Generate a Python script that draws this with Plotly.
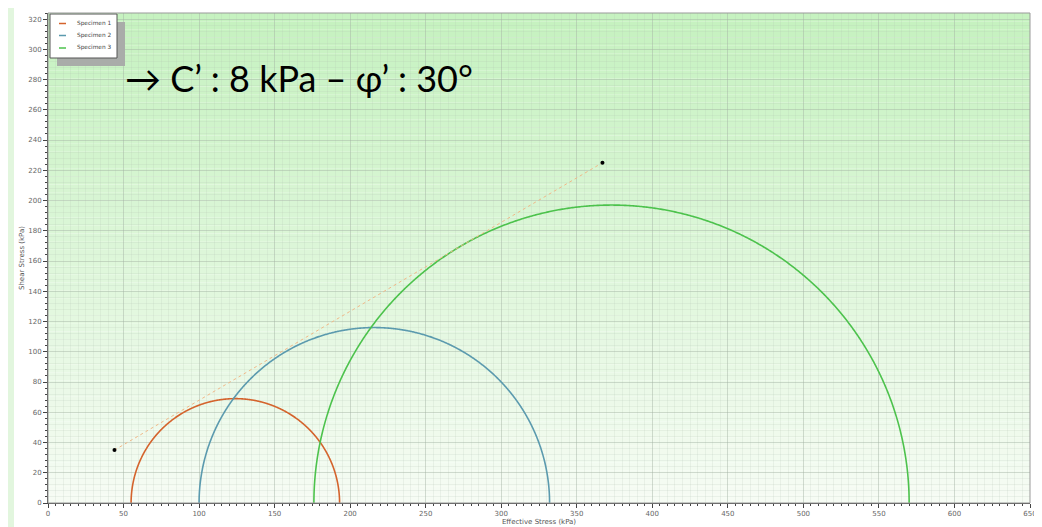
import numpy as np
import plotly.graph_objects as go

# Mohr circles: (sigma3', sigma1') in kPa
specimens = ["Specimen 1", "Specimen 2", "Specimen 3"]
sigma3 = [55, 100, 176]
sigma1 = [193, 332, 570]
colors = ["#d4632c", "#5b9aae", "#4cc24c"]

# failure envelope end points
env_x = [44, 367]
env_y = [35, 225]

x_ticks = list(range(0, 651, 50))
y_ticks = list(range(0, 321, 20))

fig = go.Figure()

theta = np.linspace(0, np.pi, 721)
for name, s3, s1, c in zip(specimens, sigma3, sigma1, colors):
    cen = (s3 + s1) / 2
    rad = (s1 - s3) / 2
    fig.add_trace(go.Scatter(x=cen + rad * np.cos(theta), y=rad * np.sin(theta),
                             mode="lines", name=name, showlegend=False,
                             line=dict(color=c, width=1.6, simplify=False)))

fig.add_trace(go.Scatter(x=env_x, y=env_y, mode="lines+markers", showlegend=False,
                         line=dict(color="#f0b888", width=1, dash="dot"),
                         marker=dict(color="black", size=4)))

PW, PH = 982.0, 490.0  # plot area size in px

def px(xp):
    return xp / PW

def py(yp):  # yp = px from top of plot area
    return 1 - yp / PH

# gradient background bands
shapes = []
n = 60
top = np.array([198, 242, 192])
bot = np.array([246, 252, 244])
for i in range(n):
    f = i / (n - 1)
    col = top * (1 - f) + bot * f
    shapes.append(dict(type="rect", xref="paper", yref="paper",
                       x0=0, x1=1, y0=1 - (i + 1) / n, y1=1 - i / n,
                       fillcolor="rgb(%d,%d,%d)" % tuple(col.astype(int)),
                       line=dict(width=0), layer="below"))
# left slide strip (visible part of the slide behind the chart)
shapes.append(dict(type="rect", xref="paper", yref="paper",
                   x0=px(-48), x1=px(-34), y0=py(490 + 24), y1=py(-13),
                   fillcolor="#e2f6de", line=dict(width=0), layer="below"))

# manual compact legend (shadow, box, swatches)
shapes.append(dict(type="rect", xref="paper", yref="paper",
                   x0=px(9), x1=px(77), y0=py(53), y1=py(9),
                   fillcolor="#a9aca9", line=dict(width=0), layer="above"))
shapes.append(dict(type="rect", xref="paper", yref="paper",
                   x0=px(2), x1=px(69), y0=py(45), y1=py(1),
                   fillcolor="white", line=dict(color="#555555", width=1), layer="above"))
legend_rows = [10.5, 22.5, 35]
annotations = []
for name, c, r in zip(specimens, colors, legend_rows):
    shapes.append(dict(type="line", xref="paper", yref="paper",
                       x0=px(11), x1=px(18), y0=py(r), y1=py(r),
                       line=dict(color=c, width=1.5), layer="above"))
    annotations.append(dict(xref="paper", yref="paper", x=px(27), y=py(r),
                            xanchor="left", yanchor="middle", showarrow=False,
                            text=name, font=dict(size=5.8, color="#444444",
                                                 family="DejaVu Sans")))

annotations.append(dict(xref="paper", yref="paper", x=px(75), y=py(65),
                        xanchor="left", yanchor="middle", showarrow=False,
                        text="→ C’ : 8 kPa – φ’ : 30°",
                        font=dict(family="Lato", size=36, color="black")))

# plot area border
shapes.append(dict(type="rect", xref="paper", yref="paper", x0=0, x1=1, y0=0, y1=1,
                   line=dict(color="#999999", width=1), layer="above"))

# page body has an 8px margin, so the figure is offset by (8, 8)
fig.update_layout(
    width=1034, height=519,
    margin=dict(l=40, r=12, t=5, b=24, autoexpand=False),
    paper_bgcolor="white", plot_bgcolor="rgba(0,0,0,0)",
    shapes=shapes,
    annotations=annotations,
    showlegend=False,
    font=dict(family="DejaVu Sans", size=7, color="#555555"),
)

fig.update_xaxes(range=[0, 650], tickvals=x_ticks, ticks="outside", ticklen=4,
                 tickcolor="#444", linecolor="#444", linewidth=1, showline=True,
                 automargin=False,
                 showgrid=True, gridcolor="rgba(160,175,160,0.35)", zeroline=False,
                 minor=dict(dtick=5, ticks="outside", ticklen=2, tickcolor="#444",
                            showgrid=True, gridcolor="rgba(180,195,180,0.18)"),
                 title=dict(text="Effective Stress (kPa)", standoff=1,
                            font=dict(size=7, color="#555555")),
                 tickfont=dict(size=7, color="#666666"))
fig.update_yaxes(range=[0, 324], tickvals=y_ticks, ticks="outside", ticklen=4,
                 tickcolor="#444", linecolor="#444", linewidth=1, showline=True,
                 automargin=False,
                 showgrid=True, gridcolor="rgba(160,175,160,0.35)", zeroline=False,
                 minor=dict(dtick=4, ticks="outside", ticklen=2, tickcolor="#444",
                            showgrid=True, gridcolor="rgba(180,195,180,0.18)"),
                 title=dict(text="Shear Stress (kPa)", standoff=2,
                            font=dict(size=7, color="#555555")),
                 tickfont=dict(size=7, color="#666666"))

fig.write_html("out.html")
